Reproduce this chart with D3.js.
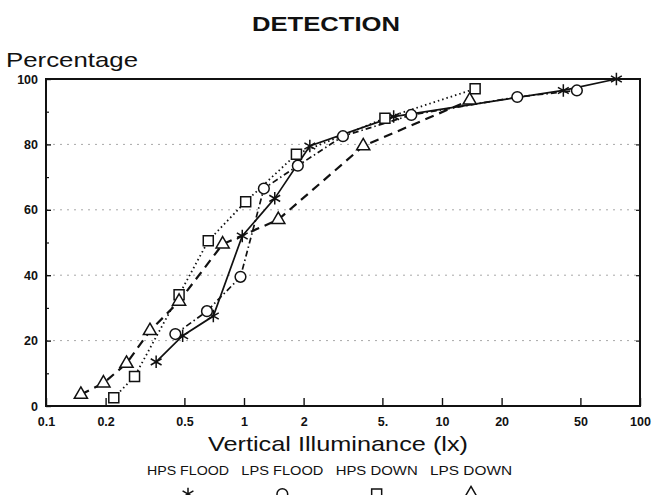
<!DOCTYPE html>
<html>
<head>
<meta charset="utf-8">
<script src="https://cdn.jsdelivr.net/npm/d3@7"></script>
<style>
  body { margin: 0; background: #fff; }
  text { font-family: "Liberation Sans", Arial, sans-serif; fill: #111; }
</style>
</head>
<body>
<div id="chart"></div>
<script>
// values (lux on a log axis, percentage detected)
const hpsFloodLux = [0.36, 0.49, 0.70, 0.98, 1.43, 2.15, 5.7, 41, 76];
const hpsFloodPct = [13.5, 21.5, 27.5, 52, 63.5, 79.5, 88.5, 96.5, 100];

const lpsFloodLux = [0.45, 0.65, 0.96, 1.26, 1.87, 3.16, 7.0, 24, 48];
const lpsFloodPct = [22, 29, 39.5, 66.5, 73.5, 82.5, 89, 94.5, 96.5];

const hpsDownLux = [0.22, 0.28, 0.47, 0.66, 1.02, 1.84, 5.15, 14.7];
const hpsDownPct = [2.5, 9, 34, 50.5, 62.5, 77, 88, 97];

const lpsDownLux = [0.15, 0.195, 0.255, 0.335, 0.47, 0.78, 1.49, 4.0, 13.8];
const lpsDownPct = [3.5, 7, 13, 23, 32, 49.5, 57, 79.5, 93.5];

const seriesNames = ["HPS FLOOD", "LPS FLOOD", "HPS DOWN", "LPS DOWN"];
const xTickValues = [0.1, 0.2, 0.5, 1, 2, 5, 10, 20, 50, 100];
const xTickLabels = ["0.1", "0.2", "0.5", "1", "2", "5.", "10", "20", "50", "100"];
const yTickValues = [0, 20, 40, 60, 80, 100];
const yMinorValues = [10, 30, 50, 70, 90];
const gridValues = [20, 40, 60, 80];

const width = 654, height = 495;
const plotLeft = 46, plotRight = 640, plotTop = 79, plotBottom = 406;

const svg = d3.select("#chart")
  .append("svg")
    .attr("width", width)
    .attr("height", height);

const x = d3.scaleLog().domain([0.1, 100]).range([plotLeft, plotRight]);
const y = d3.scaleLinear().domain([0, 100]).range([plotBottom, plotTop]);

// asterisk marker (fallback if the d3 build has no symbolAsterisk)
const asterisk = d3.symbolAsterisk || {
  draw(ctx, size) {
    const r = Math.sqrt(size) / 2;
    for (let k = 0; k < 3; k++) {
      const a = Math.PI / 2 + k * Math.PI / 3;
      ctx.moveTo(r * Math.cos(a), r * Math.sin(a));
      ctx.lineTo(-r * Math.cos(a), -r * Math.sin(a));
    }
  }
};

const series = [
  { lux: hpsFloodLux, pct: hpsFloodPct, dash: null, width: 1.7, mark: asterisk, size: 110 },
  { lux: lpsFloodLux, pct: lpsFloodPct, dash: "6,3,1.5,3", width: 1.7, mark: d3.symbolCircle, size: 90 },
  { lux: hpsDownLux, pct: hpsDownPct, dash: "1.5,3", width: 1.8, mark: d3.symbolSquare, size: 100 },
  { lux: lpsDownLux, pct: lpsDownPct, dash: "9,6", width: 2.2, mark: d3.symbolTriangle, size: 75 }
];

// faint dotted gridlines
svg.append("g")
  .selectAll("line")
  .data(gridValues)
  .enter()
  .append("line")
    .attr("x1", plotLeft).attr("x2", plotRight)
    .attr("y1", d => y(d)).attr("y2", d => y(d))
    .attr("stroke", "#a8a8a8")
    .attr("stroke-width", 1)
    .attr("stroke-dasharray", "2,5");

// axes (ticks point inward)
const xAxis = svg.append("g")
  .attr("transform", "translate(0," + plotBottom + ")")
  .call(d3.axisBottom(x)
    .tickValues(xTickValues)
    .tickSize(-8)
    .tickPadding(11)
    .tickFormat((d, i) => xTickLabels[i]));
xAxis.select(".domain").remove();
xAxis.selectAll("text")
  .style("font-size", "12.5px").style("font-weight", "bold");
xAxis.selectAll("line").attr("stroke", "#111").attr("stroke-width", 1.4);

const yAxis = svg.append("g")
  .attr("transform", "translate(" + plotLeft + ",0)")
  .call(d3.axisLeft(y)
    .tickValues(yTickValues)
    .tickSize(-5)
    .tickPadding(8));
yAxis.select(".domain").remove();
yAxis.selectAll("text")
  .style("font-size", "12.5px").style("font-weight", "bold");
yAxis.selectAll("line").attr("stroke", "#111").attr("stroke-width", 1.4);

const yMinor = svg.append("g")
  .attr("transform", "translate(" + plotLeft + ",0)")
  .call(d3.axisLeft(y).tickValues(yMinorValues).tickSize(-3).tickFormat(""));
yMinor.select(".domain").remove();
yMinor.selectAll("line").attr("stroke", "#111").attr("stroke-width", 1.2);

const yRight = svg.append("g")
  .attr("transform", "translate(" + plotRight + ",0)")
  .call(d3.axisRight(y).tickValues(gridValues).tickSize(-4).tickFormat(""));
yRight.select(".domain").remove();
yRight.selectAll("line").attr("stroke", "#111").attr("stroke-width", 1.2);

// frame
svg.append("rect")
  .attr("x", plotLeft).attr("y", plotTop)
  .attr("width", plotRight - plotLeft).attr("height", plotBottom - plotTop)
  .attr("fill", "none")
  .attr("stroke", "#111")
  .attr("stroke-width", 2);

// series lines
const line = d3.line()
  .x(d => x(d[0]))
  .y(d => y(d[1]));

series.forEach(s => {
  const pts = s.lux.map((v, i) => [v, s.pct[i]]);
  svg.append("path")
    .datum(pts)
    .attr("d", line)
    .attr("fill", "none")
    .attr("stroke", "#111")
    .attr("stroke-width", s.width)
    .attr("stroke-dasharray", s.dash);
});

// markers on top
series.forEach(s => {
  const pts = s.lux.map((v, i) => [v, s.pct[i]]);
  svg.append("g")
    .selectAll("path")
    .data(pts)
    .enter()
    .append("path")
      .attr("transform", d => "translate(" + x(d[0]) + "," + y(d[1]) + ")")
      .attr("d", d3.symbol().type(s.mark).size(s.size))
      .attr("fill", s.mark === asterisk ? "none" : "#fff")
      .attr("stroke", "#111")
      .attr("stroke-width", 1.5);
});

// titles
svg.append("text")
  .attr("x", 326).attr("y", 31)
  .attr("text-anchor", "middle")
  .attr("textLength", 148)
  .attr("lengthAdjust", "spacingAndGlyphs")
  .style("font-size", "21px").style("font-weight", "bold")
  .text("DETECTION");

svg.append("text")
  .attr("x", 6).attr("y", 67)
  .attr("textLength", 132)
  .attr("lengthAdjust", "spacingAndGlyphs")
  .style("font-size", "21px")
  .text("Percentage");

svg.append("text")
  .attr("x", 338).attr("y", 451)
  .attr("text-anchor", "middle")
  .attr("textLength", 260)
  .attr("lengthAdjust", "spacingAndGlyphs")
  .style("font-size", "21px")
  .text("Vertical Illuminance (lx)");

// legend under the axis title, samples run off the page bottom as in the scan
const legendX = d3.scalePoint().domain(seriesNames).range([188, 471]);

seriesNames.forEach((name, i) => {
  const cx = legendX(name);
  const s = series[i];
  svg.append("text")
    .attr("x", cx).attr("y", 475)
    .attr("text-anchor", "middle")
    .attr("textLength", 82)
    .attr("lengthAdjust", "spacingAndGlyphs")
    .style("font-size", "13px")
    .text(name);
  svg.append("line")
    .attr("x1", cx - 20).attr("x2", cx + 20)
    .attr("y1", 496).attr("y2", 496)
    .attr("stroke", "#111")
    .attr("stroke-width", s.width)
    .attr("stroke-dasharray", s.dash);
  svg.append("path")
    .attr("transform", "translate(" + cx + ",494)")
    .attr("d", d3.symbol().type(s.mark).size(s.size))
    .attr("fill", s.mark === asterisk ? "none" : "#fff")
    .attr("stroke", "#111")
    .attr("stroke-width", 1.5);
});
</script>
</body>
</html>
